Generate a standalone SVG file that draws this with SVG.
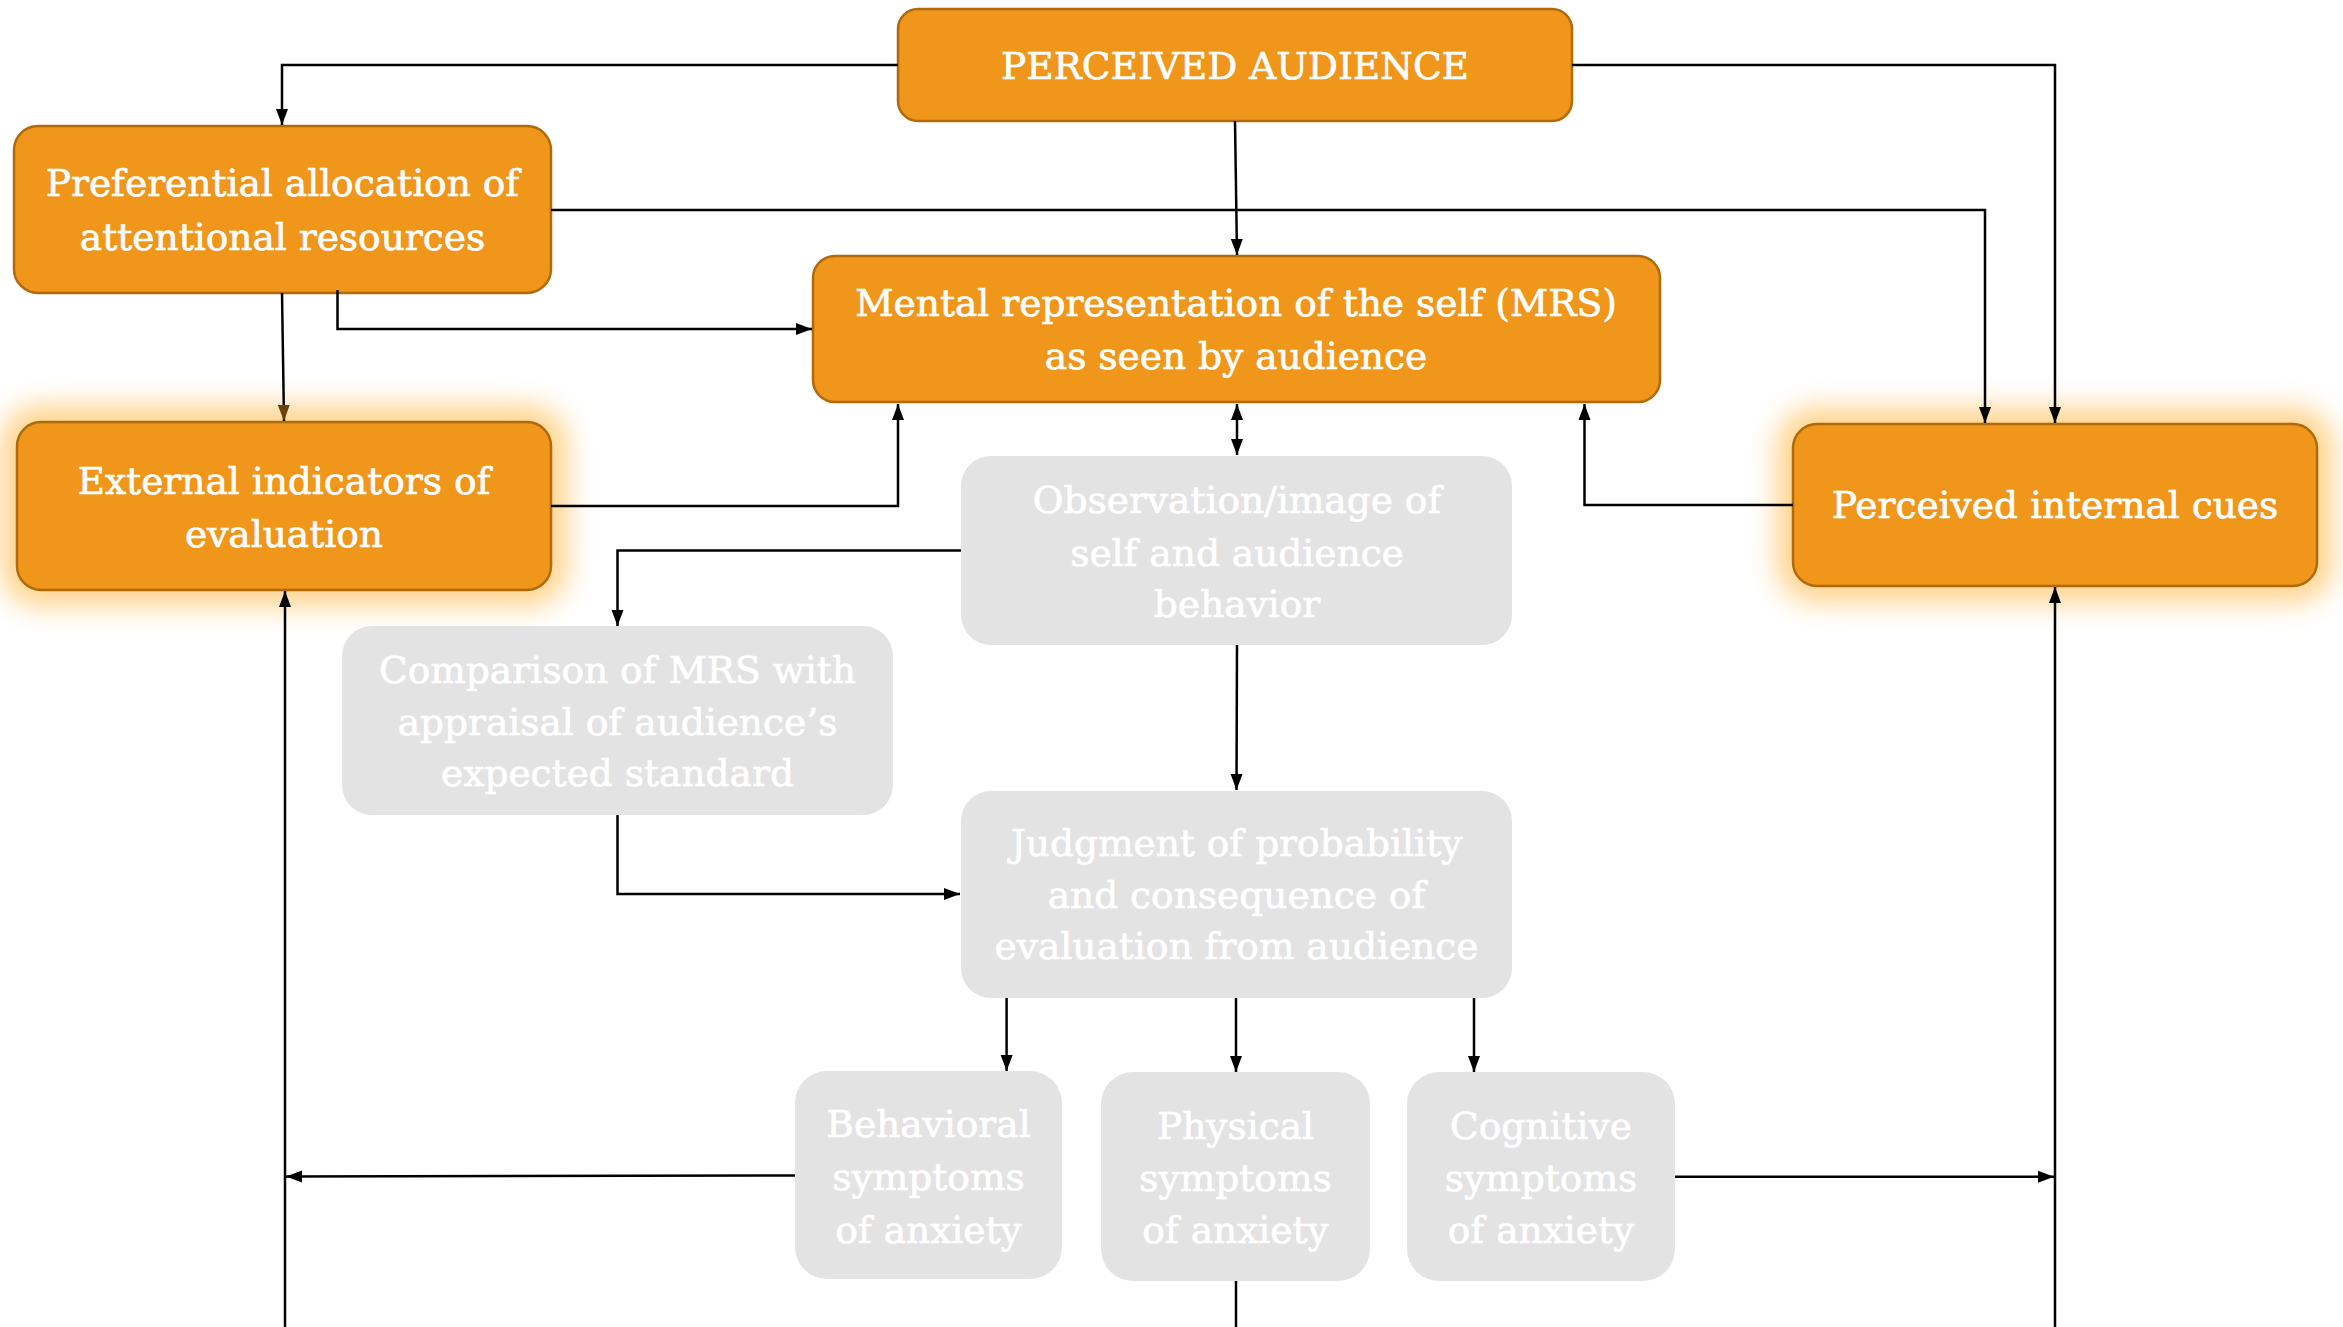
<svg xmlns="http://www.w3.org/2000/svg" width="2343" height="1327" viewBox="0 0 2343 1327">
<style>
.o{fill:#F0961A;stroke:#B06A0C;stroke-width:2.5}
.g{fill:#E3E3E3}
.t{font-family:"DejaVu Serif","Liberation Serif",serif;font-size:37.5px;fill:#FFFFFF;stroke:#FFFFFF;stroke-width:0.7;text-anchor:middle}
.c{fill:none;stroke:#000;stroke-width:2.5}
.gl{fill:#FFCE7E;opacity:0.9}
</style>
<defs>
<marker id="a" markerUnits="userSpaceOnUse" markerWidth="18" markerHeight="14" viewBox="0 0 18 14" refX="16" refY="7" orient="auto-start-reverse"><path d="M0,1 L16,7 L0,13 Z" fill="#000"/></marker>
<marker id="ab" markerUnits="userSpaceOnUse" markerWidth="18" markerHeight="14" viewBox="0 0 18 14" refX="16" refY="7" orient="auto"><path d="M0,1 L16,7 L0,13 Z" fill="#6A4208"/></marker>
<filter id="glow" x="-20%" y="-40%" width="140%" height="180%"><feGaussianBlur stdDeviation="14"/></filter>
</defs>
<rect width="2343" height="1327" fill="#FFFFFF"/>
<g id="perceived-audience">
<rect class="o" x="898" y="9" width="674" height="112" rx="20"/>
<text class="t" x="1235" y="79">PERCEIVED AUDIENCE</text>
</g>
<g id="preferential-allocation">
<rect class="o" x="14" y="126" width="537" height="167" rx="24"/>
<text class="t" x="282.5" y="196">Preferential allocation of</text>
<text class="t" x="282.5" y="250">attentional resources</text>
</g>
<g id="mental-representation">
<rect class="o" x="813" y="256" width="847" height="146" rx="22"/>
<text class="t" x="1236" y="316">Mental representation of the self (MRS)</text>
<text class="t" x="1236" y="369">as seen by audience</text>
</g>
<g id="external-indicators">
<rect class="gl" x="1" y="406" width="566" height="200" rx="38" filter="url(#glow)"/>
<rect class="o" x="17" y="422" width="534" height="168" rx="24"/>
<text class="t" x="284" y="494">External indicators of</text>
<text class="t" x="284" y="547">evaluation</text>
</g>
<g id="perceived-internal-cues">
<rect class="gl" x="1777" y="408" width="556" height="194" rx="38" filter="url(#glow)"/>
<rect class="o" x="1793" y="424" width="524" height="162" rx="24"/>
<text class="t" x="2055" y="518">Perceived internal cues</text>
</g>
<g id="observation">
<rect class="g" x="961" y="456" width="551" height="189" rx="30"/>
<text class="t" x="1237" y="513">Observation/image of</text>
<text class="t" x="1237" y="566">self and audience</text>
<text class="t" x="1237" y="617">behavior</text>
</g>
<g id="comparison">
<rect class="g" x="342" y="626" width="551" height="189" rx="30"/>
<text class="t" x="617.5" y="683">Comparison of MRS with</text>
<text class="t" x="617.5" y="735">appraisal of audience’s</text>
<text class="t" x="617.5" y="786">expected standard</text>
</g>
<g id="judgment">
<rect class="g" x="961" y="791" width="551" height="207" rx="30"/>
<text class="t" x="1236.5" y="856">Judgment of probability</text>
<text class="t" x="1236.5" y="908">and consequence of</text>
<text class="t" x="1236.5" y="959">evaluation from audience</text>
</g>
<g id="behavioral-symptoms">
<rect class="g" x="795" y="1071" width="267" height="208" rx="32"/>
<text class="t" x="928.5" y="1137">Behavioral</text>
<text class="t" x="928.5" y="1190">symptoms</text>
<text class="t" x="928.5" y="1243">of anxiety</text>
</g>
<g id="physical-symptoms">
<rect class="g" x="1101" y="1072" width="269" height="209" rx="32"/>
<text class="t" x="1235.5" y="1139">Physical</text>
<text class="t" x="1235.5" y="1191">symptoms</text>
<text class="t" x="1235.5" y="1243">of anxiety</text>
</g>
<g id="cognitive-symptoms">
<rect class="g" x="1407" y="1072" width="268" height="209" rx="32"/>
<text class="t" x="1541" y="1139">Cognitive</text>
<text class="t" x="1541" y="1191">symptoms</text>
<text class="t" x="1541" y="1243">of anxiety</text>
</g>
<g id="connectors">
<path class="c" d="M898,65 H282 V125" marker-end="url(#a)"/>
<path class="c" d="M1572,65 H2055 V423" marker-end="url(#a)"/>
<path class="c" d="M1235,121 L1237,255" marker-end="url(#a)"/>
<path class="c" d="M551,210 H1985 V423" marker-end="url(#a)"/>
<path class="c" d="M337.5,290 V329 H812" marker-end="url(#a)"/>
<path class="c" d="M282,293 L284,421" stroke="#3a2a10" marker-end="url(#ab)"/>
<path class="c" d="M551,506 H898 V404" marker-end="url(#a)"/>
<path class="c" d="M1793,505 H1584.5 V404" marker-end="url(#a)"/>
<path class="c" d="M1237,404 V455" marker-start="url(#a)" marker-end="url(#a)"/>
<path class="c" d="M961,550.5 H617.5 V626" marker-end="url(#a)"/>
<path class="c" d="M1237,645 L1236.5,790" marker-end="url(#a)"/>
<path class="c" d="M617.5,815 V894 H960" marker-end="url(#a)"/>
<path class="c" d="M1006.6,998 V1071" marker-end="url(#a)"/>
<path class="c" d="M1236,998 V1072" marker-end="url(#a)"/>
<path class="c" d="M1474,998 V1072" marker-end="url(#a)"/>
<path class="c" d="M795,1175.5 L286,1176.5" marker-end="url(#a)"/>
<path class="c" d="M1675,1176.7 H2054" marker-end="url(#a)"/>
<path class="c" d="M285,1327 V591" marker-end="url(#a)"/>
<path class="c" d="M2055,1327 V587" marker-end="url(#a)"/>
<path class="c" d="M1236,1281 V1327"/>
</g>
</svg>
